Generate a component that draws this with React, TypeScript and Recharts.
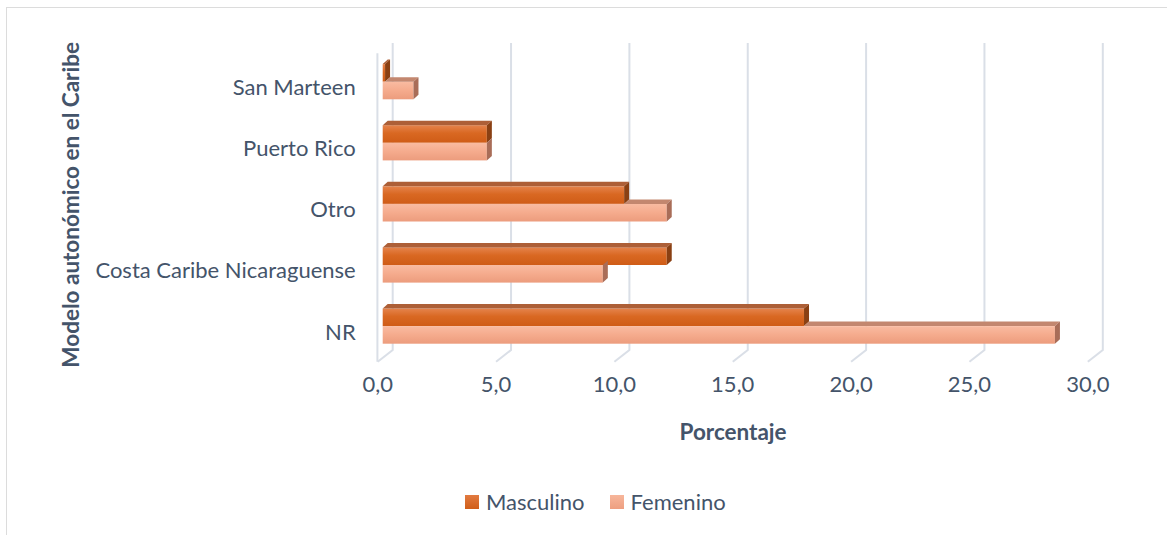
import { Bar, BarChart, CartesianGrid, Legend, XAxis, YAxis } from 'recharts';

const categories = ['San Marteen', 'Puerto Rico', 'Otro', 'Costa Caribe Nicaraguense', 'NR'];
const masculino = [0.1, 4.4, 10.2, 12.0, 17.8];
const femenino = [1.3, 4.4, 12.0, 9.3, 28.4];
const xTicks = [0, 5, 10, 15, 20, 25, 30];

const data = categories.map((name, i) => ({ name, masc: masculino[i], fem: femenino[i] }));

const TEXT = '#44546a';
const FONT = 'Lato, "Open Sans", sans-serif';
const GRID = '#dadfe7';
// oblique offset of the 3d bars (depth)
const DX = 5;
const DY = 4.5;

function MascBar(props: any) {
  const { x, y, height } = props;
  const w = Math.max(props.width, 0);
  return (
    <g>
      <rect x={x} y={y} width={w} height={height} fill="url(#mascFront)" />
      <polygon points={`${x},${y} ${x + DX},${y - DY} ${x + w + DX},${y - DY} ${x + w},${y}`} fill="#ad5f37" />
      <polygon
        points={`${x + w},${y} ${x + w + DX},${y - DY} ${x + w + DX},${y + height - DY} ${x + w},${y + height}`}
        fill="#8a4013"
      />
    </g>
  );
}

function FemBar(props: any) {
  const { x, y, height, payload } = props;
  const w = Math.max(props.width, 0);
  // the top face is hidden behind the masculino bar, only the part past its end shows
  const mw = payload.fem ? (payload.masc / payload.fem) * w : 0;
  return (
    <g>
      <rect x={x} y={y} width={w} height={height} fill="url(#femFront)" />
      {w > mw && (
        <polygon points={`${x + mw},${y} ${x + mw + DX},${y - DY} ${x + w + DX},${y - DY} ${x + w},${y}`} fill="#c3876f" />
      )}
      <polygon
        points={`${x + w},${y} ${x + w + DX},${y - DY} ${x + w + DX},${y + height - DY} ${x + w},${y + height}`}
        fill="#a96d58"
      />
    </g>
  );
}

function GridLine(props: any) {
  const { x1, y1, y2, index } = props;
  const back = `M${x1 + 10},${y1 - 8.2} L${x1 + 10},${y2 - 6.6} L${x1 - 5},${y2 + 5.1}`;
  return (
    <g key={`grid-${index}`}>
      <path d={back} stroke={GRID} strokeWidth={2} fill="none" />
      {index === 0 && <path d={`M${x1 - 5.3},${y1 + 2.2} L${x1 - 5.3},${y2 + 5.1}`} stroke={GRID} strokeWidth={2} fill="none" />}
    </g>
  );
}

function CategoryTick({ x, y, payload }: any) {
  return (
    <text x={x - 27} y={y + 5} textAnchor="end" dominantBaseline="central" fill={TEXT} fontSize={22} fontFamily={FONT}>
      {payload.value}
    </text>
  );
}

function ValueTick({ x, y, payload }: any) {
  return (
    <text x={x - 5} y={y + 26.4} textAnchor="middle" dominantBaseline="central" fill={TEXT} fontSize={22} fontFamily={FONT}>
      {Number(payload.value).toFixed(1).replace('.', ',')}
    </text>
  );
}

function renderLegend() {
  const items = [
    { label: 'Masculino', bg: 'linear-gradient(#e27a40, #d05e19)' },
    { label: 'Femenino', bg: 'linear-gradient(#f7b69b, #ee9f80)' },
  ];
  return (
    <div style={{ display: 'flex', paddingLeft: 465, fontFamily: FONT, fontSize: 22, color: TEXT }}>
      {items.map((it) => (
        <div key={it.label} style={{ display: 'flex', alignItems: 'center', marginRight: 25 }}>
          <span style={{ width: 14, height: 14, background: it.bg, marginRight: 7, display: 'inline-block' }} />
          <span>{it.label}</span>
        </div>
      ))}
    </div>
  );
}

export default function App() {
  return (
    <div style={{ position: 'relative', width: 1167, height: 535 }}>
      <style>{'body{margin:0;overflow:hidden}'}</style>
      <div style={{ position: 'absolute', left: 6, top: 7, width: 1300, height: 700, border: '1px solid #dcdcdc' }} />
      <div style={{ position: 'absolute', left: 0, top: 0 }}>
        <BarChart
          width={1167}
          height={535}
          data={data}
          layout="vertical"
          margin={{ top: 51.1, right: 74.2, bottom: 118.4, left: 0 }}
          barSize={17.6}
          barGap={0}
        >
          <defs>
            <linearGradient id="mascFront" x1="0" y1="0" x2="0" y2="1">
              <stop offset="0%" stopColor="#e5834c" />
              <stop offset="45%" stopColor="#d96822" />
              <stop offset="100%" stopColor="#cf5c17" />
            </linearGradient>
            <linearGradient id="femFront" x1="0" y1="0" x2="0" y2="1">
              <stop offset="0%" stopColor="#f9bba1" />
              <stop offset="50%" stopColor="#f5ab8d" />
              <stop offset="100%" stopColor="#ec9c7d" />
            </linearGradient>
          </defs>
          <CartesianGrid horizontal={false} vertical={GridLine} />
          <XAxis
            type="number"
            domain={[0, 30]}
            ticks={xTicks}
            height={60}
            axisLine={false}
            tickLine={false}
            tickSize={0}
            tickMargin={0}
            tick={ValueTick}
            label={{
              content: ({ viewBox }: any) => (
                <text
                  x={viewBox.x + viewBox.width / 2 - 4.7}
                  y={viewBox.y + 74.4}
                  textAnchor="middle"
                  dominantBaseline="central"
                  fill={TEXT}
                  fontSize={22.5}
                  fontWeight="bold"
                  fontFamily={FONT}
                >
                  Porcentaje
                </text>
              ),
            }}
          />
          <YAxis
            type="category"
            dataKey="name"
            width={382.7}
            axisLine={false}
            tickLine={false}
            tickSize={0}
            tickMargin={0}
            tick={CategoryTick}
            label={{
              content: ({ viewBox }: any) => {
                const cx = viewBox.x + 71;
                const cy = viewBox.y + viewBox.height / 2 + 1;
                return (
                  <text
                    x={cx}
                    y={cy}
                    transform={`rotate(-90 ${cx} ${cy})`}
                    textAnchor="middle"
                    dominantBaseline="central"
                    fill={TEXT}
                    fontSize={22.5}
                    fontWeight="bold"
                    fontFamily={FONT}
                  >
                    Modelo autonómico en el Caribe
                  </text>
                );
              },
            }}
          />
          <Legend
            layout="horizontal"
            verticalAlign="middle"
            align="center"
            wrapperStyle={{ top: 488, left: 0, width: 1167 }}
            content={renderLegend}
          />
          <Bar dataKey="masc" name="Masculino" fill="#d5621c" shape={MascBar} isAnimationActive={false} />
          <Bar dataKey="fem" name="Femenino" fill="#f2a586" shape={FemBar} isAnimationActive={false} />
        </BarChart>
      </div>
    </div>
  );
}
